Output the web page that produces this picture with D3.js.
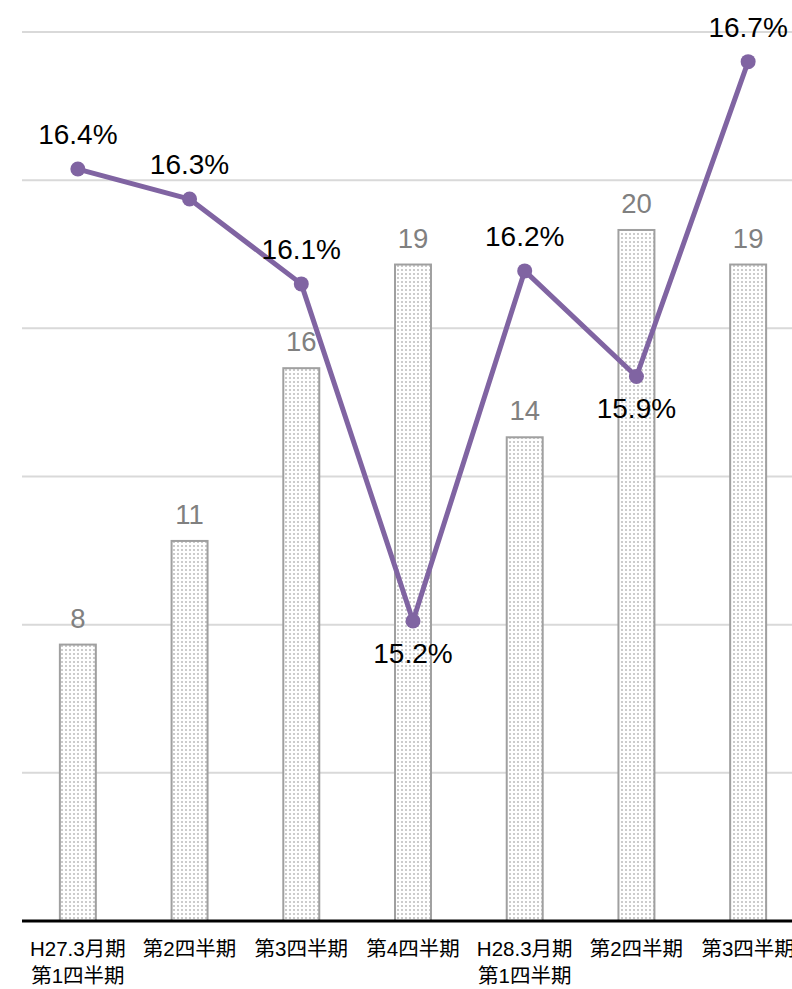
<!DOCTYPE html>
<html><head><meta charset="utf-8">
<script src="https://cdn.jsdelivr.net/npm/d3@7"></script>
<style>
html,body{margin:0;padding:0;background:#fff;overflow:hidden;}
svg{display:block;}
</style></head>
<body>
<script>
const categories = [["H27.3月期","第1四半期"],["第2四半期"],["第3四半期"],["第4四半期"],["H28.3月期","第1四半期"],["第2四半期"],["第3四半期"]];
const barValues = [8, 11, 16, 19, 14, 20, 19];
const rateValues = [16.43, 16.349, 16.12, 15.21, 16.155, 15.87, 16.72];
const rateTicks = [14.4, 14.8, 15.2, 15.6, 16.0, 16.4, 16.8];

(function(){
const W = 792, H = 989;
const pLeft = 22, pRight = 804, pTop = 32, pBottom = 921;

const svg = d3.select("body").append("svg").attr("width", W).attr("height", H);
const defs = svg.append("defs");
const pat = defs.append("pattern").attr("id","dots").attr("patternUnits","userSpaceOnUse")
  .attr("width",4).attr("height",4);
pat.append("rect").attr("width",4).attr("height",4).attr("fill","#ffffff");
pat.append("rect").attr("x",1).attr("y",1).attr("width",2).attr("height",2).attr("fill","#cccccc");

const idx = categories.map((d,i)=>i);
const x = d3.scaleBand().domain(idx).range([pLeft, pRight]).paddingInner(0.678).paddingOuter(0.339);
const yBar = d3.scaleLinear().domain([0, 25.73]).range([pBottom, pTop]);
const yRate = d3.scaleLinear().domain([14.4, 16.8]).range([pBottom, pTop]);

svg.append("g").selectAll("line").data(rateTicks.slice(1)).join("line")
  .attr("x1", pLeft).attr("x2", W).attr("y1", d=>yRate(d)).attr("y2", d=>yRate(d))
  .attr("stroke","#d9d9d9").attr("stroke-width",2);

svg.append("g").selectAll("rect").data(barValues).join("rect")
  .attr("x",(d,i)=>x(i)).attr("width",x.bandwidth())
  .attr("y",d=>yBar(d)).attr("height",d=>pBottom-yBar(d))
  .attr("fill","url(#dots)").attr("stroke","#a0a0a0").attr("stroke-width",2);

const font = "'Liberation Sans', Arial, 'Noto Sans CJK JP', sans-serif";

svg.append("g").selectAll("text").data(barValues).join("text")
  .attr("x",(d,i)=>x(i)+x.bandwidth()/2).attr("y",d=>yBar(d)-17)
  .attr("text-anchor","middle").attr("font-family",font).attr("font-size",27.5)
  .attr("fill","#808080").text(d=>d);

const cx = i => x(i)+x.bandwidth()/2;
svg.append("path").datum(rateValues)
  .attr("d", d3.line().x((d,i)=>cx(i)).y(d=>yRate(d)))
  .attr("fill","none").attr("stroke","#8064a2").attr("stroke-width",5).attr("stroke-linejoin","round");
svg.append("g").selectAll("circle").data(rateValues).join("circle")
  .attr("cx",(d,i)=>cx(i)).attr("cy",d=>yRate(d)).attr("r",7.5).attr("fill","#8064a2");

const below = [false,false,false,true,false,true,false];
svg.append("g").selectAll("text").data(rateValues).join("text")
  .attr("x",(d,i)=>cx(i)).attr("y",(d,i)=>below[i] ? yRate(d)+42 : yRate(d)-25)
  .attr("text-anchor","middle").attr("font-family",font).attr("font-size",28)
  .attr("fill","#000").text(d=>d.toFixed(1)+"%");

svg.append("line").attr("x1",pLeft).attr("x2",W).attr("y1",pBottom).attr("y2",pBottom)
  .attr("stroke","#000").attr("stroke-width",3);

const xl = svg.append("g").selectAll("text").data(categories).join("text")
  .attr("x",(d,i)=>cx(i)).attr("y",956).attr("text-anchor","middle")
  .attr("font-family",font).attr("font-size",20.5).attr("fill","#000");
xl.selectAll("tspan").data(d=>d).join("tspan")
  .attr("x",function(){return this.parentNode.getAttribute("x");})
  .attr("dy",(d,j)=>j===0?0:27).text(d=>d);
})();
</script>
</body></html>
